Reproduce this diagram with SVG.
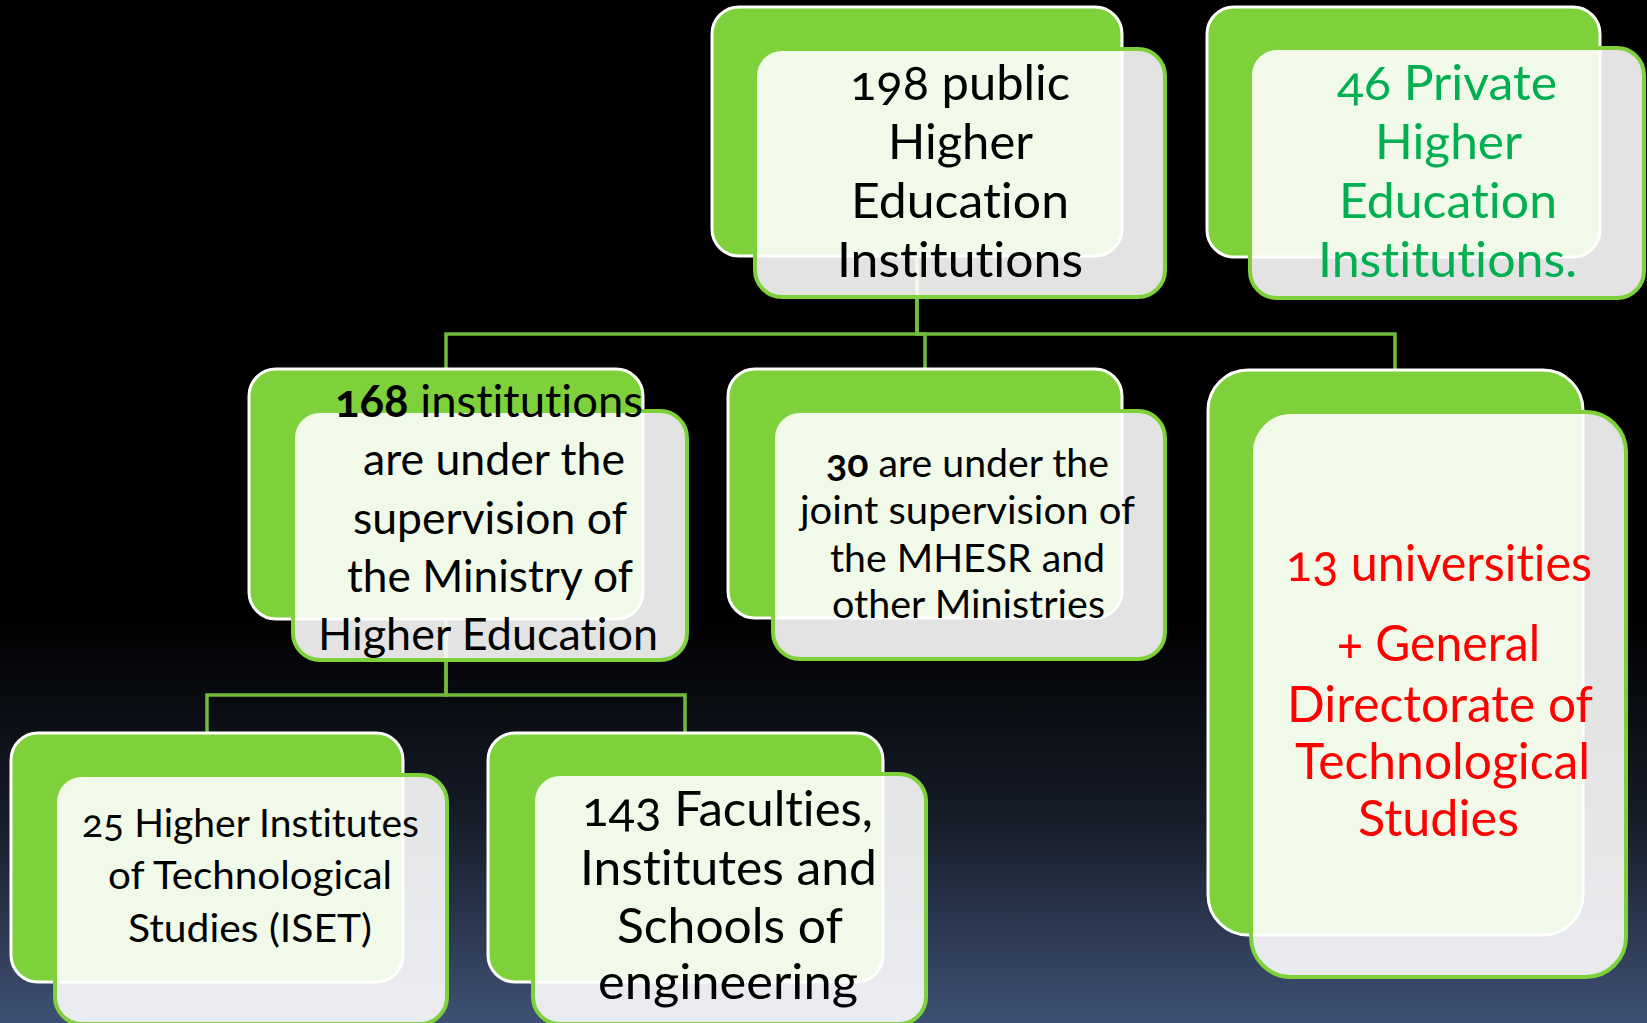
<svg xmlns="http://www.w3.org/2000/svg" width="1647" height="1023" viewBox="0 0 1647 1023">
  <defs>
    <linearGradient id="bg" x1="0" y1="0" x2="0" y2="1">
      <stop offset="0" stop-color="#000000"/>
      <stop offset="0.6" stop-color="#000000"/>
      <stop offset="0.8" stop-color="#161c28"/>
      <stop offset="1" stop-color="#3e5174"/>
    </linearGradient>
    <style>
      .back { fill: #7fd13b; stroke: #ffffff; stroke-width: 3; }
      .front { fill: #ffffff; fill-opacity: 0.89; stroke: #7fd13b; stroke-width: 4; }
      .conn { fill: none; stroke: #72ba3a; stroke-width: 3.5; }
      text { font-family: "Lato", "Open Sans", "Liberation Sans", sans-serif; font-variant-numeric: oldstyle-nums; font-variant-ligatures: none; font-feature-settings: "liga" 0, "onum" 1; fill: #000000; }
      .t48 { font-size: 48px; }
      .t46 { font-size: 45px; }
      .t38 { font-size: 38px; }
      .t50 { font-size: 50px; }
      .green { fill: #00b050; }
      .red { fill: #ff0000; }
      .b { font-weight: bold; }
    </style>
  </defs>
  <rect x="0" y="0" width="1647" height="1023" fill="url(#bg)"/>

  <g id="connectors">
    <path class="conn" d="M917 256 V334 H446 V369"/>
    <path class="conn" d="M917 256 V334 H925 V369"/>
    <path class="conn" d="M917 256 V334 H1395 V370"/>
    <path class="conn" d="M446 619 V695 H207 V733"/>
    <path class="conn" d="M446 619 V695 H685 V733"/>
  </g>

  <g id="node-public">
    <rect class="back" x="712" y="7" width="410" height="249" rx="27"/>
    <rect class="front" x="755" y="49" width="410" height="248" rx="27"/>
    <text class="t48" x="850" y="100" textLength="220" lengthAdjust="spacingAndGlyphs">198 public</text>
    <text class="t48" x="888" y="159" textLength="145" lengthAdjust="spacingAndGlyphs">Higher</text>
    <text class="t48" x="851" y="218" textLength="218" lengthAdjust="spacingAndGlyphs">Education</text>
    <text class="t48" x="837" y="277" textLength="246" lengthAdjust="spacingAndGlyphs">Institutions</text>
  </g>

  <g id="node-private">
    <rect class="back" x="1207" y="7" width="393" height="250" rx="27"/>
    <rect class="front" x="1250" y="48" width="394" height="250" rx="27"/>
    <text class="t48 green" x="1337" y="100" textLength="220" lengthAdjust="spacingAndGlyphs">46 Private</text>
    <text class="t48 green" x="1375" y="159" textLength="147" lengthAdjust="spacingAndGlyphs">Higher</text>
    <text class="t48 green" x="1339" y="218" textLength="218" lengthAdjust="spacingAndGlyphs">Education</text>
    <text class="t48 green" x="1318" y="277" textLength="259" lengthAdjust="spacingAndGlyphs">Institutions.</text>
  </g>

  <g id="node-168">
    <rect class="back" x="249" y="369" width="394" height="250" rx="27"/>
    <rect class="front" x="293" y="411" width="394" height="249" rx="27"/>
    <text class="t46" x="335" y="417" textLength="308" lengthAdjust="spacingAndGlyphs"><tspan class="b">168</tspan> institutions</text>
    <text class="t46" x="363" y="475" textLength="262" lengthAdjust="spacingAndGlyphs">are under the</text>
    <text class="t46" x="353" y="534" textLength="274" lengthAdjust="spacingAndGlyphs">supervision of</text>
    <text class="t46" x="347" y="592" textLength="286" lengthAdjust="spacingAndGlyphs">the Ministry of</text>
    <text class="t46" x="318" y="650" textLength="340" lengthAdjust="spacingAndGlyphs">Higher Education</text>
  </g>

  <g id="node-30">
    <rect class="back" x="728" y="369" width="394" height="249" rx="27"/>
    <rect class="front" x="773" y="411" width="392" height="248" rx="27"/>
    <text class="t38" x="826" y="477" textLength="283" lengthAdjust="spacingAndGlyphs"><tspan class="b">30</tspan> are under the</text>
    <text class="t38" x="800" y="524" textLength="335" lengthAdjust="spacingAndGlyphs">joint supervision of</text>
    <text class="t38" x="830" y="572" textLength="275" lengthAdjust="spacingAndGlyphs">the MHESR and</text>
    <text class="t38" x="832" y="618" textLength="273" lengthAdjust="spacingAndGlyphs">other Ministries</text>
  </g>

  <g id="node-iset">
    <rect class="back" x="11" y="733" width="392" height="249" rx="27"/>
    <rect class="front" x="55" y="775" width="392" height="249" rx="27"/>
    <text class="t38" x="82" y="837" textLength="337" lengthAdjust="spacingAndGlyphs">25 Higher Institutes</text>
    <text class="t38" x="108" y="889" textLength="284" lengthAdjust="spacingAndGlyphs">of Technological</text>
    <text class="t38" x="128" y="942" textLength="244" lengthAdjust="spacingAndGlyphs">Studies (ISET)</text>
  </g>

  <g id="node-143">
    <rect class="back" x="488" y="733" width="395" height="249" rx="27"/>
    <rect class="front" x="533" y="774" width="393" height="250" rx="27"/>
    <text class="t48" x="582" y="826" textLength="291" lengthAdjust="spacingAndGlyphs">143 Faculties,</text>
    <text class="t48" x="580" y="885" textLength="297" lengthAdjust="spacingAndGlyphs">Institutes and</text>
    <text class="t48" x="617" y="943" textLength="226" lengthAdjust="spacingAndGlyphs">Schools of</text>
    <text class="t48" x="598" y="999" textLength="260" lengthAdjust="spacingAndGlyphs">engineering</text>
  </g>

  <g id="node-universities">
    <rect class="back" x="1208" y="370" width="375" height="565" rx="40"/>
    <rect class="front" x="1251" y="412" width="375" height="565" rx="40"/>
    <text class="t50 red" x="1286" y="581" textLength="306" lengthAdjust="spacingAndGlyphs">13 universities</text>
    <text class="t50 red" x="1337" y="661" textLength="203" lengthAdjust="spacingAndGlyphs">+ General</text>
    <text class="t50 red" x="1287" y="722" textLength="306" lengthAdjust="spacingAndGlyphs">Directorate of</text>
    <text class="t50 red" x="1295" y="779" textLength="295" lengthAdjust="spacingAndGlyphs">Technological</text>
    <text class="t50 red" x="1358" y="836" textLength="161" lengthAdjust="spacingAndGlyphs">Studies</text>
  </g>
</svg>
